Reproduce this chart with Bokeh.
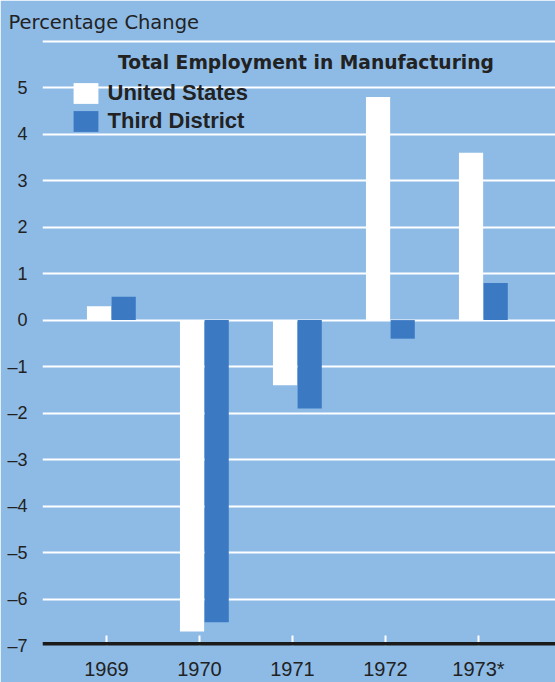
from bokeh.plotting import figure
from bokeh.models import (ColumnDataSource, FixedTicker, Label, Legend,
                          LegendItem, Range1d, Span, Title)
from bokeh.transform import dodge
from bokeh.embed import file_html
from bokeh.resources import INLINE

# Annual percentage change in manufacturing employment
years = ["1969", "1970", "1971", "1972", "1973*"]
united_states = [0.3, -6.7, -1.4, 4.8, 3.6]
third_district = [0.5, -6.5, -1.9, -0.4, 0.8]

y_ticks = list(range(-7, 7))
y_tick_labels = {t: ("" if t == 6 else str(t).replace("-", "\u2013")) for t in y_ticks}

BG = "#8dbbe6"
DARK_BLUE = "#3b79c3"
INK = "#222222"
NUM_FONT = "Liberation Sans"
HEAD_FONT = "DejaVu Sans"

pos = list(range(len(years)))
src = ColumnDataSource(dict(pos=pos, year=years, us=united_states, td=third_district))

p = figure(width=555, height=682,
           x_range=Range1d(-0.688, 4.828), y_range=Range1d(-7, 6.1),
           output_backend="svg", toolbar_location=None,
           min_border_left=42, min_border_right=0,
           min_border_top=36, min_border_bottom=36)

# one flat fill for the whole canvas; the outline hides the seam at the frame edge
p.border_fill_color = BG
p.background_fill_color = BG
p.outline_line_color = BG
p.outline_line_width = 2

# axis caption above the plot area, flush with the page's left edge
p.title = Title(text="Percentage Change", align="left", offset=-34, standoff=5,
                text_font=HEAD_FONT, text_font_style="normal",
                text_font_size="19.5px", text_color=INK)

# bars: United States left of the year tick, Third District right of it
r_us = p.vbar(x=dodge("pos", -0.08), top="us", width=0.26, source=src,
              fill_color="white", line_color=None)
r_td = p.vbar(x=dodge("pos", 0.185), top="td", width=0.26, source=src,
              fill_color=DARK_BLUE, line_color=None)

# horizontal white rules
p.xgrid.grid_line_color = None
p.ygrid.grid_line_color = "white"
p.ygrid.grid_line_width = 2
p.ygrid.ticker = FixedTicker(ticks=y_ticks)

# y axis: bare numbers
p.yaxis.ticker = FixedTicker(ticks=y_ticks)
p.yaxis.major_label_overrides = y_tick_labels
p.yaxis.axis_line_color = None
p.yaxis.major_tick_in = 0
p.yaxis.major_tick_out = 0
p.yaxis.minor_tick_line_color = None
p.yaxis.major_label_standoff = 15
p.yaxis.major_label_text_font = NUM_FONT
p.yaxis.major_label_text_font_size = "18px"
p.yaxis.major_label_text_color = INK

# x axis: years with short white ticks above the heavy baseline
p.xaxis.ticker = FixedTicker(ticks=pos)
p.xaxis.major_label_overrides = {i: y for i, y in enumerate(years)}
p.xaxis.axis_line_color = None
p.xaxis.major_tick_in = 10
p.xaxis.major_tick_out = 0
p.xaxis.major_tick_line_color = "white"
p.xaxis.major_tick_line_width = 2
p.xaxis.minor_tick_line_color = None
p.xaxis.major_label_standoff = 12
p.xaxis.major_label_text_font = NUM_FONT
p.xaxis.major_label_text_font_size = "20px"
p.xaxis.major_label_text_color = INK

baseline = Span(location=p.y_range.start, dimension="width",
                line_color="#1b1b1b", line_width=7)
p.add_layout(baseline)

p.add_layout(Label(x=263.5, y=583, x_units="screen", y_units="screen",
                   text="Total Employment in Manufacturing", text_font=HEAD_FONT,
                   text_font_style="bold", text_font_size="18.7px", text_color=INK,
                   text_baseline="alphabetic", text_align="center"))

legend = Legend(items=[LegendItem(label="United States", renderers=[r_us]),
                       LegendItem(label="Third District", renderers=[r_td])],
                location=(27.5, 510.6), orientation="vertical",
                glyph_width=31, glyph_height=26, label_standoff=7, spacing=2,
                padding=0, margin=0, border_line_color=None,
                background_fill_alpha=0,
                label_text_font=NUM_FONT, label_text_font_style="bold",
                label_text_font_size="22px", label_text_color=INK)
p.add_layout(legend)

open("out.html", "w").write(file_html(p, INLINE))
